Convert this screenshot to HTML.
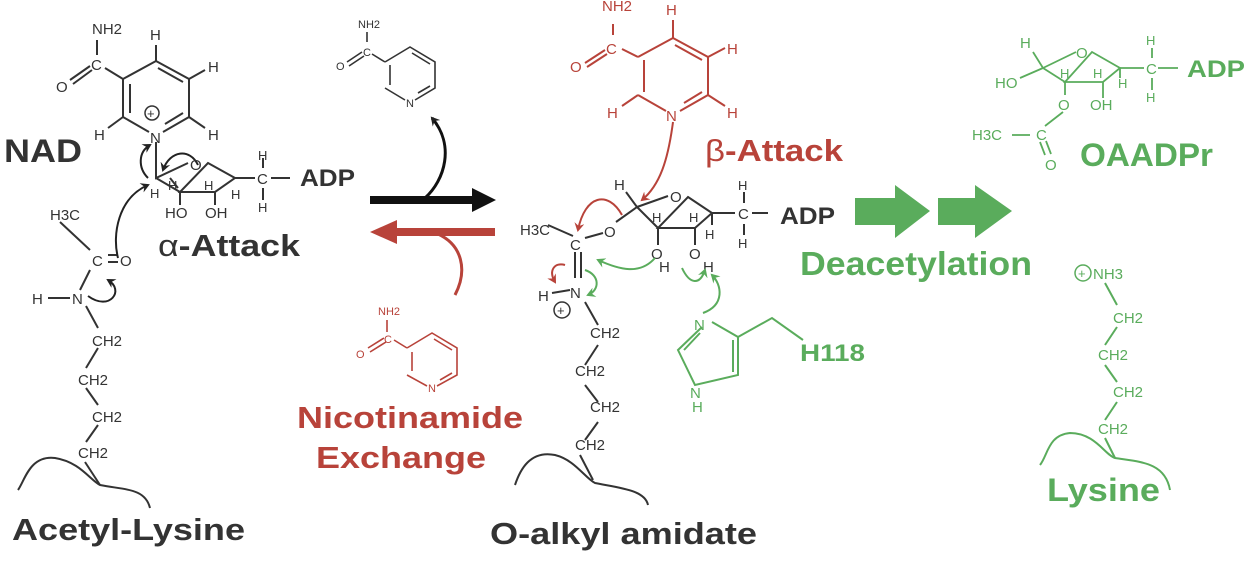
<!DOCTYPE html>
<html><head><meta charset="utf-8"><style>
html,body{margin:0;padding:0;background:#fff;}
svg{display:block;font-family:"Liberation Sans",sans-serif;}
.k{fill:#333}.r{fill:#b8433a}.g{fill:#5aac5c}
.s{font-size:15px}.b{font-weight:bold}
</style></head><body>
<svg width="1253" height="565" viewBox="0 0 1253 565">
<defs>
<marker id="ak" markerWidth="10" markerHeight="10" refX="7" refY="5" orient="auto" markerUnits="userSpaceOnUse"><path d="M0,0 L9,5 L0,10 L3,5 Z" fill="#222"/></marker>
<marker id="ar" markerWidth="10" markerHeight="10" refX="7" refY="5" orient="auto" markerUnits="userSpaceOnUse"><path d="M0,0 L9,5 L0,10 L3,5 Z" fill="#b8433a"/></marker>
<marker id="ag" markerWidth="10" markerHeight="10" refX="7" refY="5" orient="auto" markerUnits="userSpaceOnUse"><path d="M0,0 L9,5 L0,10 L3,5 Z" fill="#5aac5c"/></marker>
</defs>

<!-- ===== LEFT: NAD ===== -->
<g stroke="#333" stroke-width="2" fill="none">
<path d="M123,79 L156,61 L189,79 L189,117 L163,132 M149,132 L123,117 Z"/>
<path d="M123,117 L123,79"/>
<path d="M130,113 L130,84 M158,68 L183,82 M183,113 L165,124"/>
<path d="M123,79 L105,68 M97,55 L97,40 M90,66 L70,80 M92,70 L73,84"/>
<path d="M156,61 L156,45 M189,79 L205,70 M189,117 L205,128 M123,117 L108,128"/>
<path d="M156,142 L156,178 L188,163 M208,163 L235,178 L215,192 L180,192 Z M180,192 L156,178"/>
<path d="M235,178 L255,178 M271,178 L290,178 M263,168 L263,158 M263,188 L263,200"/>
<path d="M180,192 L180,205 M215,192 L215,205 M170,178 L178,188"/>
<path d="M60,222 L90,250 M90,270 L80,290 M108,255 L118,255 M108,262 L118,262"/>
<path d="M48,298 L70,298 M86,306 L98,328 M98,348 L86,368 M86,388 L98,405 M98,425 L86,442"/>
<path d="M18,490 C25,480 30,455 55,458 C80,462 90,480 100,485 C125,490 145,488 150,508"/>
<path d="M85,462 L100,485"/>
</g>
<g stroke="#222" stroke-width="2" fill="none">
<path d="M198,165 C190,148 170,150 163,170" marker-end="url(#ak)"/>
<path d="M148,178 C138,168 138,152 150,145" marker-end="url(#ak)"/>
<path d="M118,258 C112,235 118,198 148,185" marker-end="url(#ak)"/>
<path d="M88,296 C110,312 125,290 108,280" marker-end="url(#ak)"/>
</g>
<circle cx="152" cy="113" r="7" fill="none" stroke="#333" stroke-width="1.5"/>
<text x="147" y="118" class="k" font-size="13">+</text>
<g class="k s">
<text x="92" y="34">NH2</text><text x="91" y="70">C</text><text x="56" y="92">O</text>
<text x="150" y="40">H</text><text x="208" y="72">H</text><text x="208" y="140">H</text><text x="94" y="140">H</text>
<text x="150" y="143">N</text><text x="190" y="170">O</text>
<text x="168" y="190" font-size="13">H</text><text x="204" y="190" font-size="13">H</text>
<text x="150" y="198" font-size="13">H</text><text x="231" y="199" font-size="13">H</text>
<text x="257" y="184">C</text><text x="258" y="160" font-size="13">H</text><text x="258" y="212" font-size="13">H</text>
<text x="165" y="218">HO</text><text x="205" y="218">OH</text>
<text x="50" y="220">H3C</text><text x="92" y="266">C</text><text x="120" y="266">O</text>
<text x="32" y="304">H</text><text x="72" y="304">N</text>
<text x="92" y="346">CH2</text><text x="78" y="385">CH2</text><text x="92" y="422">CH2</text><text x="78" y="458">CH2</text>
</g>
<text x="4" y="162" class="k b" font-size="32" textLength="78" lengthAdjust="spacingAndGlyphs">NAD</text>
<text x="300" y="186" class="k b" font-size="24" textLength="55" lengthAdjust="spacingAndGlyphs">ADP</text>
<text x="158" y="256" class="k" font-size="31" textLength="142" lengthAdjust="spacingAndGlyphs"><tspan>α</tspan><tspan font-weight="bold">-Attack</tspan></text>
<text x="12" y="540" class="k b" font-size="31" textLength="233" lengthAdjust="spacingAndGlyphs">Acetyl-Lysine</text>

<!-- ===== MIDDLE ARROWS ===== -->
<path d="M370,200 L478,200" stroke="#111" stroke-width="8"/>
<path d="M472,188 L496,200 L472,212 Z" fill="#111"/>
<path d="M393,232 L495,232" stroke="#b8433a" stroke-width="8"/>
<path d="M397,220 L370,232 L397,244 Z" fill="#b8433a"/>
<path d="M425,198 C445,180 455,145 432,118" stroke="#111" stroke-width="3" fill="none" marker-end="url(#ak)"/>
<path d="M438,234 C462,245 468,270 455,295" stroke="#b8433a" stroke-width="3" fill="none"/>

<!-- small nicotinamide (black) -->
<g stroke="#333" stroke-width="1.6" fill="none">
<path d="M385,62 L410,47 L435,62 L435,88 L415,100 M405,100 L385,88 Z"/>
<path d="M390,85 L390,65 M412,53 L430,64 M430,86 L418,93"/>
<path d="M385,62 L372,54 M367,42 L367,32 M362,52 L347,62 M364,56 L349,66"/>
</g>
<g class="k" font-size="11"><text x="358" y="28">NH2</text><text x="363" y="56">C</text><text x="336" y="70">O</text><text x="406" y="107">N</text></g>

<!-- red nicotinamide -->
<g stroke="#b8433a" stroke-width="1.6" fill="none">
<path d="M407,348 L432,333 L457,348 L457,375 L437,386 M427,386 L407,375 Z"/>
<path d="M412,371 L412,352 M434,339 L452,350 M452,373 L440,380"/>
<path d="M407,348 L394,340 M387,320 L387,332 M384,338 L368,348 M386,342 L370,352"/>
</g>
<g class="r" font-size="11"><text x="378" y="315">NH2</text><text x="384" y="343">C</text><text x="356" y="358">O</text><text x="428" y="392">N</text></g>
<text x="297" y="428" class="r b" font-size="31" textLength="226" lengthAdjust="spacingAndGlyphs">Nicotinamide</text>
<text x="316" y="468" class="r b" font-size="31" textLength="170" lengthAdjust="spacingAndGlyphs">Exchange</text>

<!-- ===== MIDDLE STRUCTURE ===== -->
<g stroke="#b8433a" stroke-width="2" fill="none">
<path d="M638,57 L673,38 L708,57 L708,95 L680,111 M666,111 L638,95 Z"/>
<path d="M644,92 L644,60 M675,45 L702,60 M702,92 L684,103"/>
<path d="M638,57 L622,49 M613,35 L613,24 M605,50 L585,63 M607,54 L587,67"/>
<path d="M673,38 L673,20 M708,57 L725,48 M708,95 L725,106 M638,95 L622,106"/>
<path d="M673,122 C668,160 660,185 642,200" marker-end="url(#ar)"/>
<path d="M622,215 C608,190 585,195 578,230" marker-end="url(#ar)"/>
<path d="M565,265 C555,262 548,270 555,282" marker-end="url(#ar)"/>
</g>
<g class="r s"><text x="602" y="11">NH2</text><text x="606" y="54">C</text><text x="570" y="72">O</text>
<text x="666" y="15">H</text><text x="727" y="54">H</text><text x="727" y="118">H</text><text x="607" y="118">H</text><text x="666" y="121">N</text></g>
<text x="705" y="161" class="r" font-size="31" textLength="138" lengthAdjust="spacingAndGlyphs"><tspan>β</tspan><tspan font-weight="bold">-Attack</tspan></text>

<g stroke="#333" stroke-width="2" fill="none">
<path d="M637,207 L668,196 M688,197 L712,213 L695,228 L658,228 Z M658,228 L637,207"/>
<path d="M712,213 L735,213 M752,213 L768,213 M744,203 L744,192 M744,224 L744,235"/>
<path d="M637,207 L626,192 M658,228 L658,245 M695,228 L695,245 M712,213 L712,225"/>
<path d="M637,207 L616,222 M603,233 L585,238 M573,236 L548,225"/>
<path d="M575,252 L575,278 M581,252 L581,278 M552,293 L570,290 M585,302 L598,325 M598,345 L585,365 M585,385 L598,402 M598,422 L585,440"/>
<path d="M515,485 C520,470 530,450 555,455 C575,460 585,478 595,483 C620,488 645,490 648,505"/>
<path d="M580,455 L593,480"/>
</g>
<circle cx="562" cy="310" r="8" fill="none" stroke="#333" stroke-width="1.5"/>
<text x="557" y="315" class="k" font-size="13">+</text>
<g class="k s">
<text x="614" y="190">H</text><text x="670" y="202">O</text>
<text x="652" y="222" font-size="13">H</text><text x="689" y="222" font-size="13">H</text><text x="705" y="239" font-size="13">H</text>
<text x="738" y="219">C</text><text x="738" y="190" font-size="13">H</text><text x="738" y="248" font-size="13">H</text>
<text x="520" y="235">H3C</text><text x="570" y="250">C</text><text x="604" y="237">O</text>
<text x="651" y="259">O</text><text x="659" y="272">H</text><text x="689" y="259">O</text><text x="703" y="272">H</text>
<text x="538" y="301">H</text><text x="570" y="298">N</text>
<text x="590" y="338">CH2</text><text x="575" y="376">CH2</text><text x="590" y="412">CH2</text><text x="575" y="450">CH2</text>
</g>
<text x="780" y="224" class="k b" font-size="24" textLength="55" lengthAdjust="spacingAndGlyphs">ADP</text>
<text x="490" y="544" class="k b" font-size="31" textLength="267" lengthAdjust="spacingAndGlyphs">O-alkyl amidate</text>

<!-- green arrows & imidazole -->
<g stroke="#5aac5c" stroke-width="2" fill="none">
<path d="M655,258 C640,275 620,270 598,260" marker-end="url(#ag)"/>
<path d="M585,270 C600,275 600,290 588,295" marker-end="url(#ag)"/>
<path d="M682,268 C690,285 700,285 705,270" marker-end="url(#ag)"/>
<path d="M703,313 C725,305 722,285 712,275" marker-end="url(#ag)"/>
<path d="M702,327 L678,350 L695,385 L738,375 L738,337 L712,322"/>
<path d="M684,350 L700,333 M733,372 L733,340"/>
<path d="M738,337 L772,318 L803,340"/>
</g>
<g class="g s"><text x="694" y="330">N</text><text x="690" y="398">N</text><text x="692" y="412">H</text></g>
<text x="800" y="361" class="g b" font-size="24" textLength="65" lengthAdjust="spacingAndGlyphs">H118</text>
<path d="M855,198 L895,198 L895,185 L930,211 L895,238 L895,225 L855,225 Z" fill="#5aac5c"/>
<path d="M938,198 L975,198 L975,185 L1012,211 L975,238 L975,225 L938,225 Z" fill="#5aac5c"/>
<text x="800" y="275" class="g b" font-size="33" textLength="232" lengthAdjust="spacingAndGlyphs">Deacetylation</text>

<!-- ===== RIGHT: OAADPr ===== -->
<g stroke="#5aac5c" stroke-width="1.8" fill="none">
<path d="M1043,68 L1076,52 M1092,52 L1120,68 L1103,82 L1065,82 Z M1065,82 L1043,68"/>
<path d="M1043,68 L1033,52 M1043,68 L1020,78 M1065,82 L1065,95 M1103,82 L1103,98 M1120,68 L1120,78"/>
<path d="M1120,68 L1144,68 M1158,68 L1178,68 M1152,58 L1152,48 M1152,78 L1152,90"/>
<path d="M1063,112 L1045,126 M1030,135 L1012,135 M1040,142 L1045,155 M1046,141 L1051,154"/>
</g>
<g class="g s">
<text x="1020" y="48">H</text><text x="1076" y="58">O</text>
<text x="1060" y="78" font-size="13">H</text><text x="1093" y="78" font-size="13">H</text><text x="1118" y="88" font-size="13">H</text>
<text x="1146" y="74">C</text><text x="1146" y="45" font-size="13">H</text><text x="1146" y="102" font-size="13">H</text>
<text x="995" y="88">HO</text><text x="1058" y="110">O</text><text x="1090" y="110">OH</text>
<text x="972" y="140">H3C</text><text x="1036" y="140">C</text><text x="1045" y="170">O</text>
</g>
<text x="1187" y="77" class="g b" font-size="24" textLength="58" lengthAdjust="spacingAndGlyphs">ADP</text>
<text x="1080" y="166" class="g b" font-size="32" textLength="133" lengthAdjust="spacingAndGlyphs">OAADPr</text>

<!-- right lysine -->
<circle cx="1083" cy="273" r="8" fill="none" stroke="#5aac5c" stroke-width="1.5"/>
<text x="1078" y="278" class="g" font-size="13">+</text>
<g class="g s"><text x="1093" y="279">NH3</text>
<text x="1113" y="323">CH2</text><text x="1098" y="360">CH2</text><text x="1113" y="397">CH2</text><text x="1098" y="434">CH2</text></g>
<g stroke="#5aac5c" stroke-width="2" fill="none">
<path d="M1105,283 L1117,305 M1117,327 L1105,345 M1105,365 L1117,382 M1117,402 L1105,420"/>
<path d="M1040,465 C1048,455 1048,435 1070,433 C1095,433 1105,455 1115,458 C1140,462 1165,462 1170,490"/>
<path d="M1105,438 L1115,458"/>
</g>
<text x="1047" y="501" class="g b" font-size="32" textLength="113" lengthAdjust="spacingAndGlyphs">Lysine</text>
</svg>
</body></html>
